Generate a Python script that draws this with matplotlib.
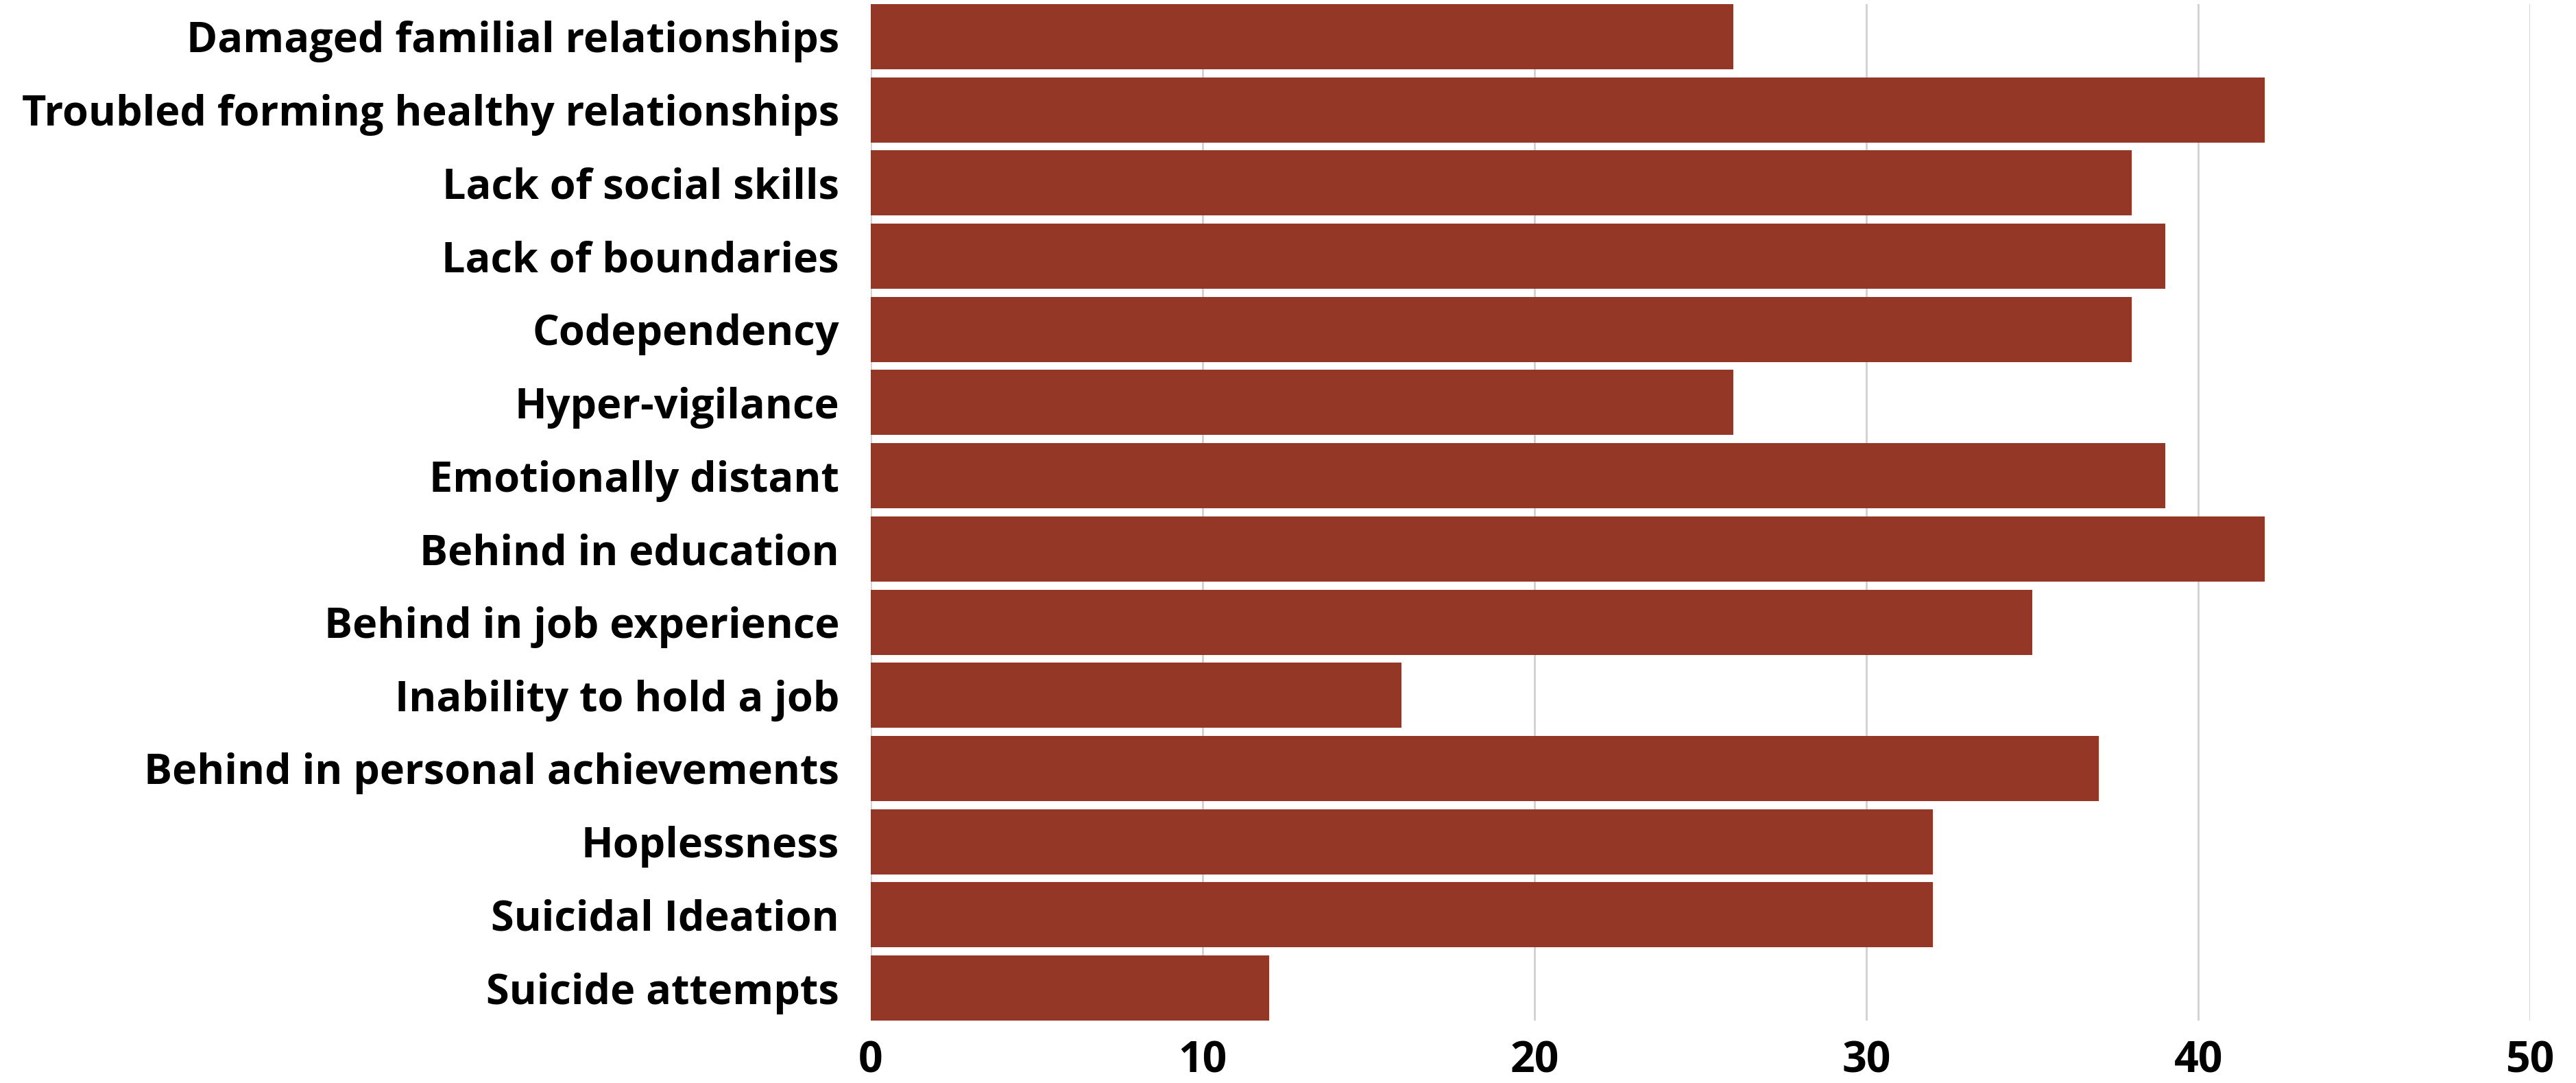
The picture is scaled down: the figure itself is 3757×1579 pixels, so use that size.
import matplotlib
matplotlib.use('Agg')
from matplotlib import pyplot as plt

categories = [
    'Damaged familial relationships',
    'Troubled forming healthy relationships',
    'Lack of social skills',
    'Lack of boundaries',
    'Codependency',
    'Hyper-vigilance',
    'Emotionally distant',
    'Behind in education',
    'Behind in job experience',
    'Inability to hold a job',
    'Behind in personal achievements',
    'Hoplessness',
    'Suicidal Ideation',
    'Suicide attempts',
]
counts = [26, 42, 38, 39, 38, 26, 39, 42, 35, 16, 37, 32, 32, 12]
x_ticks = [0, 10, 20, 30, 40, 50]

BAR_COLOR = '#943726'
GRID_COLOR = '#d0d0d0'


def main():
    plt.rcParams['font.family'] = ['Open Sans', 'DejaVu Sans']
    fig = plt.figure(figsize=(37.57, 15.79), dpi=100)
    ax = fig.add_axes([0.338, 0.0576, 0.9822 - 0.338, 0.9962 - 0.0576])

    positions = list(range(len(categories)))
    ax.barh(positions, counts, height=0.89, color=BAR_COLOR, zorder=3)

    ax.set_xlim(0, 50)
    ax.set_ylim(len(categories) - 1 + 0.445, -0.445)
    ax.set_xticks(x_ticks)
    ax.set_xticklabels([str(t) for t in x_ticks], fontsize=45, fontweight='bold')
    ax.set_yticks(positions)
    ax.set_yticklabels(categories, fontsize=44, fontweight='bold')
    ax.tick_params(axis='x', length=0, pad=20)
    ax.tick_params(axis='y', length=0, pad=33)

    ax.grid(axis='x', color=GRID_COLOR, linewidth=2, zorder=0)
    ax.grid(axis='y', visible=False)
    for spine in ax.spines.values():
        spine.set_visible(False)

    fig.savefig('out.png', dpi=100)


if __name__ == '__main__':
    main()
